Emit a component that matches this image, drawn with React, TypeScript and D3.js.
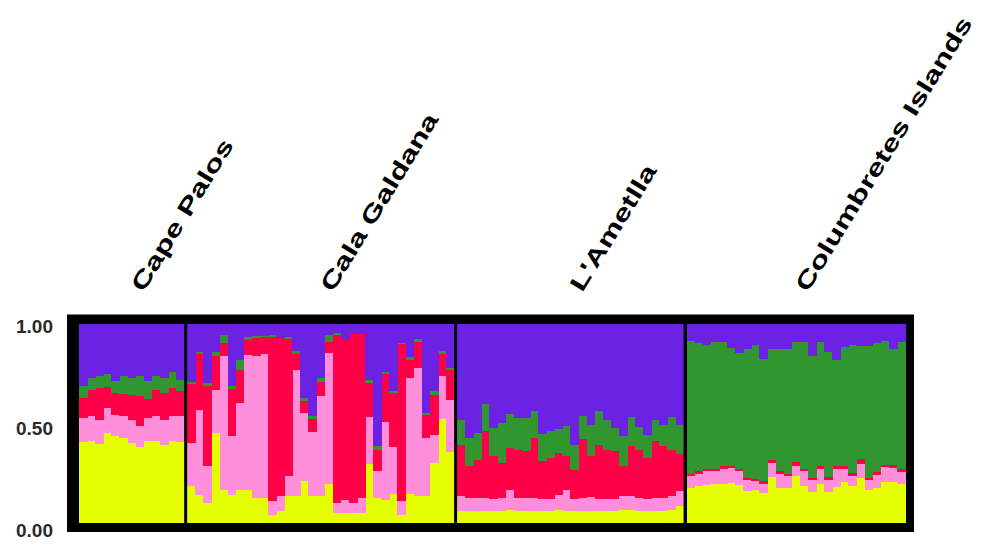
import React from "react";
import * as d3 from "d3";

// cluster order from bottom to top
const clusters = ["yellow", "pink", "red", "green", "purple"];
const clusterColors = ["#E5FF00", "#FF8EDB", "#FF0048", "#31962F", "#6C22E2"];

const populations = ["Cape Palos", "Cala Galdana", "L'Ametlla", "Columbretes Islands"];

const yTicks = [0, 0.5, 1];

// rows: [yellow, pink, red, green, purple]
const capePalos = [
  [0.405, 0.122, 0.101, 0.062, 0.31],
  [0.41, 0.129, 0.131, 0.059, 0.271],
  [0.397, 0.122, 0.159, 0.059, 0.263],
  [0.452, 0.126, 0.106, 0.067, 0.25],
  [0.436, 0.109, 0.109, 0.059, 0.288],
  [0.427, 0.109, 0.114, 0.087, 0.263],
  [0.402, 0.117, 0.126, 0.084, 0.271],
  [0.382, 0.104, 0.154, 0.101, 0.26],
  [0.41, 0.117, 0.095, 0.089, 0.288],
  [0.41, 0.126, 0.134, 0.067, 0.263],
  [0.394, 0.126, 0.134, 0.075, 0.271],
  [0.41, 0.129, 0.139, 0.079, 0.243],
  [0.405, 0.134, 0.122, 0.059, 0.28],
];

const calaGaldana = [
  [0.184, 0.217, 0.298, 0.012, 0.289],
  [0.142, 0.426, 0.279, 0.01, 0.142],
  [0.1, 0.187, 0.403, 0.012, 0.298],
  [0.452, 0.217, 0.171, 0.018, 0.142],
  [0.167, 0.669, 0.07, 0.038, 0.055],
  [0.142, 0.293, 0.237, 0.017, 0.311],
  [0.167, 0.435, 0.167, 0.05, 0.181],
  [0.167, 0.677, 0.075, 0.017, 0.064],
  [0.125, 0.714, 0.089, 0.012, 0.06],
  [0.125, 0.724, 0.084, 0.008, 0.059],
  [0.042, 0.067, 0.828, 0.008, 0.055],
  [0.059, 0.079, 0.791, 0.0, 0.072],
  [0.134, 0.104, 0.689, 0.01, 0.064],
  [0.134, 0.635, 0.08, 0.017, 0.134],
  [0.209, 0.343, 0.062, 0.017, 0.37],
  [0.134, 0.321, 0.067, 0.018, 0.46],
  [0.134, 0.505, 0.072, 0.017, 0.273],
  [0.197, 0.656, 0.055, 0.037, 0.055],
  [0.05, 0.05, 0.844, 0.012, 0.043],
  [0.05, 0.067, 0.803, 0.0, 0.08],
  [0.05, 0.05, 0.848, 0.0, 0.052],
  [0.05, 0.075, 0.823, 0.0, 0.052],
  [0.298, 0.234, 0.171, 0.017, 0.281],
  [0.125, 0.134, 0.109, 0.017, 0.615],
  [0.117, 0.393, 0.239, 0.012, 0.239],
  [0.147, 0.237, 0.268, 0.012, 0.336],
  [0.042, 0.067, 0.789, 0.008, 0.094],
  [0.147, 0.58, 0.092, 0.017, 0.164],
  [0.134, 0.644, 0.134, 0.013, 0.075],
  [0.134, 0.293, 0.114, 0.012, 0.448],
  [0.304, 0.139, 0.201, 0.017, 0.339],
  [0.522, 0.217, 0.11, 0.017, 0.134],
  [0.355, 0.264, 0.151, 0.008, 0.222],
];

const lAmetlla = [
  [0.059, 0.075, 0.26, 0.126, 0.481],
  [0.059, 0.067, 0.159, 0.142, 0.573],
  [0.062, 0.064, 0.189, 0.137, 0.548],
  [0.059, 0.067, 0.335, 0.139, 0.4],
  [0.059, 0.062, 0.214, 0.142, 0.523],
  [0.062, 0.064, 0.173, 0.204, 0.497],
  [0.067, 0.101, 0.209, 0.173, 0.451],
  [0.062, 0.064, 0.243, 0.159, 0.472],
  [0.059, 0.067, 0.235, 0.168, 0.472],
  [0.059, 0.067, 0.302, 0.134, 0.439],
  [0.059, 0.062, 0.189, 0.139, 0.551],
  [0.062, 0.059, 0.206, 0.134, 0.539],
  [0.064, 0.079, 0.209, 0.121, 0.528],
  [0.062, 0.106, 0.168, 0.151, 0.514],
  [0.062, 0.059, 0.147, 0.126, 0.606],
  [0.059, 0.067, 0.296, 0.117, 0.461],
  [0.059, 0.072, 0.204, 0.159, 0.506],
  [0.059, 0.062, 0.273, 0.168, 0.439],
  [0.062, 0.059, 0.248, 0.151, 0.481],
  [0.062, 0.059, 0.24, 0.117, 0.523],
  [0.067, 0.07, 0.151, 0.147, 0.564],
  [0.067, 0.07, 0.248, 0.147, 0.467],
  [0.062, 0.064, 0.243, 0.114, 0.518],
  [0.059, 0.062, 0.206, 0.117, 0.556],
  [0.059, 0.067, 0.285, 0.109, 0.481],
  [0.062, 0.064, 0.26, 0.109, 0.506],
  [0.067, 0.07, 0.231, 0.164, 0.467],
  [0.087, 0.072, 0.189, 0.146, 0.506],
];

const columbretes = [
  [0.176, 0.059, 0.013, 0.665, 0.087],
  [0.188, 0.06, 0.012, 0.645, 0.095],
  [0.193, 0.067, 0.012, 0.625, 0.104],
  [0.198, 0.062, 0.012, 0.637, 0.092],
  [0.198, 0.074, 0.013, 0.623, 0.092],
  [0.201, 0.075, 0.012, 0.591, 0.121],
  [0.193, 0.067, 0.012, 0.583, 0.146],
  [0.159, 0.055, 0.012, 0.648, 0.126],
  [0.168, 0.042, 0.012, 0.675, 0.104],
  [0.151, 0.047, 0.012, 0.615, 0.176],
  [0.231, 0.07, 0.013, 0.559, 0.126],
  [0.176, 0.072, 0.012, 0.615, 0.126],
  [0.176, 0.059, 0.013, 0.626, 0.126],
  [0.235, 0.054, 0.017, 0.603, 0.092],
  [0.184, 0.075, 0.012, 0.637, 0.092],
  [0.154, 0.06, 0.012, 0.615, 0.159],
  [0.198, 0.074, 0.013, 0.623, 0.092],
  [0.154, 0.064, 0.012, 0.628, 0.142],
  [0.181, 0.09, 0.013, 0.536, 0.179],
  [0.204, 0.067, 0.013, 0.6, 0.116],
  [0.184, 0.054, 0.013, 0.645, 0.104],
  [0.226, 0.072, 0.025, 0.568, 0.109],
  [0.164, 0.05, 0.012, 0.665, 0.109],
  [0.176, 0.067, 0.012, 0.65, 0.095],
  [0.204, 0.077, 0.012, 0.62, 0.087],
  [0.204, 0.072, 0.017, 0.581, 0.126],
  [0.198, 0.057, 0.017, 0.637, 0.092],
];

const popData = [capePalos, calaGaldana, lAmetlla, columbretes];

export default function App() {
  const W = 987;
  const H = 544;
  const plot = { left: 79, right: 905, top: 324, bottom: 523 };
  const sepW = 3;

  // individuals table
  const rows: any[] = [];
  popData.forEach((pop, p) =>
    pop.forEach((r) => {
      const o: any = { pop: p };
      clusters.forEach((c, k) => (o[c] = r[k]));
      rows.push(o);
    })
  );
  const N = rows.length;

  const x = d3
    .scaleLinear()
    .domain([0, N])
    .range([plot.left, plot.right - sepW * (populations.length - 1)]);
  const y = d3.scaleLinear().domain([0, 1]).range([plot.bottom, plot.top]);
  const yLabel = d3.scaleLinear().domain([0, 1]).range([530.5, 326.5]);

  const stack = d3.stack<any>().keys(clusters).offset(d3.stackOffsetExpand);
  const series = stack(rows);

  const xi = (i: number) => x(i) + sepW * rows[i].pop;
  const bw = x(1) - x(0);

  // population boundaries
  const starts: number[] = [];
  let acc = 0;
  popData.forEach((p) => {
    starts.push(acc);
    acc += p.length;
  });

  return (
    <svg width={W} height={H} style={{ position: "absolute", left: 0, top: 0 }}>
      <rect x={0} y={0} width={W} height={H} fill="#fff" />
      <rect x={67} y={314.5} width={847} height={217.5} fill="#000" />
      <rect x={plot.left} y={plot.top} width={plot.right - plot.left} height={plot.bottom - plot.top} fill="#000" />
      <g shapeRendering="crispEdges">
        {series.map((s, k) => (
          <g key={s.key} fill={clusterColors[k]}>
            {s.map((d, i) => (
              <rect
                key={i}
                x={xi(i)}
                y={y(d[1])}
                width={bw + 0.6}
                height={Math.max(0, y(d[0]) - y(d[1]))}
              />
            ))}
          </g>
        ))}
      </g>
      {starts.slice(1).map((s, p) => (
        <rect key={p} x={x(s) + sepW * p} y={plot.top} width={sepW} height={plot.bottom - plot.top} fill="#000" />
      ))}
      {yTicks.map((t) => (
        <text
          key={t}
          x={53}
          y={yLabel(t)}
          textAnchor="end"
          dominantBaseline="central"
          fontFamily="Liberation Sans, Arial, sans-serif"
          fontWeight="bold"
          fontSize={19}
          fill="#2a2a2a"
        >
          {t.toFixed(2)}
        </text>
      ))}
      {populations.map((name, p) => {
        const s = starts[p];
        const e = s + popData[p].length;
        const cx = (xi(s) + xi(e - 1) + bw) / 2 + 12;
        return (
          <text
            key={name}
            transform={`translate(${cx},293) rotate(-58.5) scale(1.4,1)`}
            fontFamily="Liberation Sans, Arial, sans-serif"
            fontWeight="bold"
            fontSize={23}
            fill="#000"
          >
            {name}
          </text>
        );
      })}
    </svg>
  );
}
